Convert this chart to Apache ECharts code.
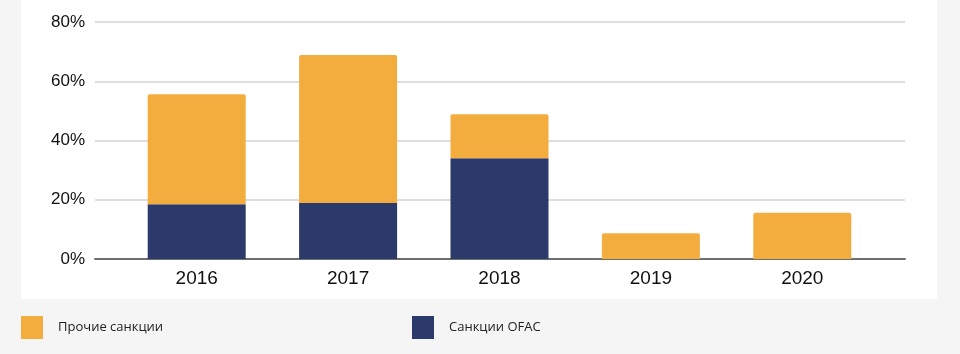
<!DOCTYPE html>
<html>
<head>
<meta charset="utf-8">
<script src="https://cdn.jsdelivr.net/npm/echarts@6/dist/echarts.min.js"></script>
<style>
html, body { margin: 0; padding: 0; background: #f5f5f5; }
#chart { width: 960px; height: 354px; }
</style>
</head>
<body>
<div id="chart"></div>
<script>
// данные графика
var years = ["2016", "2017", "2018", "2019", "2020"];
var ofac = [18.5, 18.9, 34.0, 0, 0];          // Санкции OFAC
var other = [37.1, 50.0, 14.9, 8.7, 15.6];    // Прочие санкции
var yTicks = [0, 20, 40, 60, 80];

var myChart = echarts.init(document.getElementById("chart"));

var option = {
    backgroundColor: "#f5f5f5",
    animation: false,
    graphic: [{
        type: "rect",
        z: -10,
        shape: { x: 21, y: 0, width: 916, height: 299 },
        style: { fill: "#ffffff" }
    }],
    legend: [{
        data: ["Прочие санкции"],
        left: 21, top: 316, padding: 0,
        icon: "rect", itemWidth: 22, itemHeight: 23,
        textStyle: { fontFamily: "Open Sans", fontSize: 13, color: "#222", padding: [0, 0, 0, 10] }
    }, {
        data: ["Санкции OFAC"],
        left: 412, top: 316, padding: 0,
        icon: "rect", itemWidth: 22, itemHeight: 23,
        textStyle: { fontFamily: "Open Sans", fontSize: 13, color: "#222", padding: [0, 0, 0, 10] }
    }],
    grid: [
        { left: 95, right: 55, top: 22, bottom: 95 },   // сетка и ось
        { left: 121, right: 82, top: 22, bottom: 95 }   // столбцы
    ],
    xAxis: [{
        type: "category",
        gridIndex: 0,
        data: [""],
        axisLine: { lineStyle: { color: "#6e6e6e", width: 2 } },
        axisTick: { show: false },
        axisLabel: { show: false }
    }, {
        type: "category",
        gridIndex: 1,
        data: years,
        axisLine: { show: false },
        axisTick: { show: false },
        axisLabel: { fontFamily: "Liberation Sans", fontSize: 19, color: "#111", margin: 10 }
    }],
    yAxis: [{
        type: "value",
        gridIndex: 0,
        min: yTicks[0],
        max: yTicks[yTicks.length - 1],
        interval: 20,
        axisLine: { show: false },
        axisTick: { show: false },
        axisLabel: {
            formatter: "{value}%",
            fontFamily: "Liberation Sans", fontSize: 17, color: "#111", margin: 10
        },
        splitLine: { lineStyle: { color: "#d3d3d3", width: 1.5 } }
    }, {
        type: "value",
        gridIndex: 1,
        min: yTicks[0],
        max: yTicks[yTicks.length - 1],
        show: false
    }],
    series: [{
        name: "Санкции OFAC",
        type: "bar",
        stack: "total",
        xAxisIndex: 1,
        yAxisIndex: 1,
        barWidth: 98,
        data: ofac,
        itemStyle: { color: "#2b3a6b" }
    }, {
        name: "Прочие санкции",
        type: "bar",
        stack: "total",
        xAxisIndex: 1,
        yAxisIndex: 1,
        barWidth: 98,
        data: other,
        itemStyle: { color: "#f2ad3e", borderRadius: [2, 2, 0, 0] }
    }]
};
myChart.setOption(option);
</script>
</body>
</html>
